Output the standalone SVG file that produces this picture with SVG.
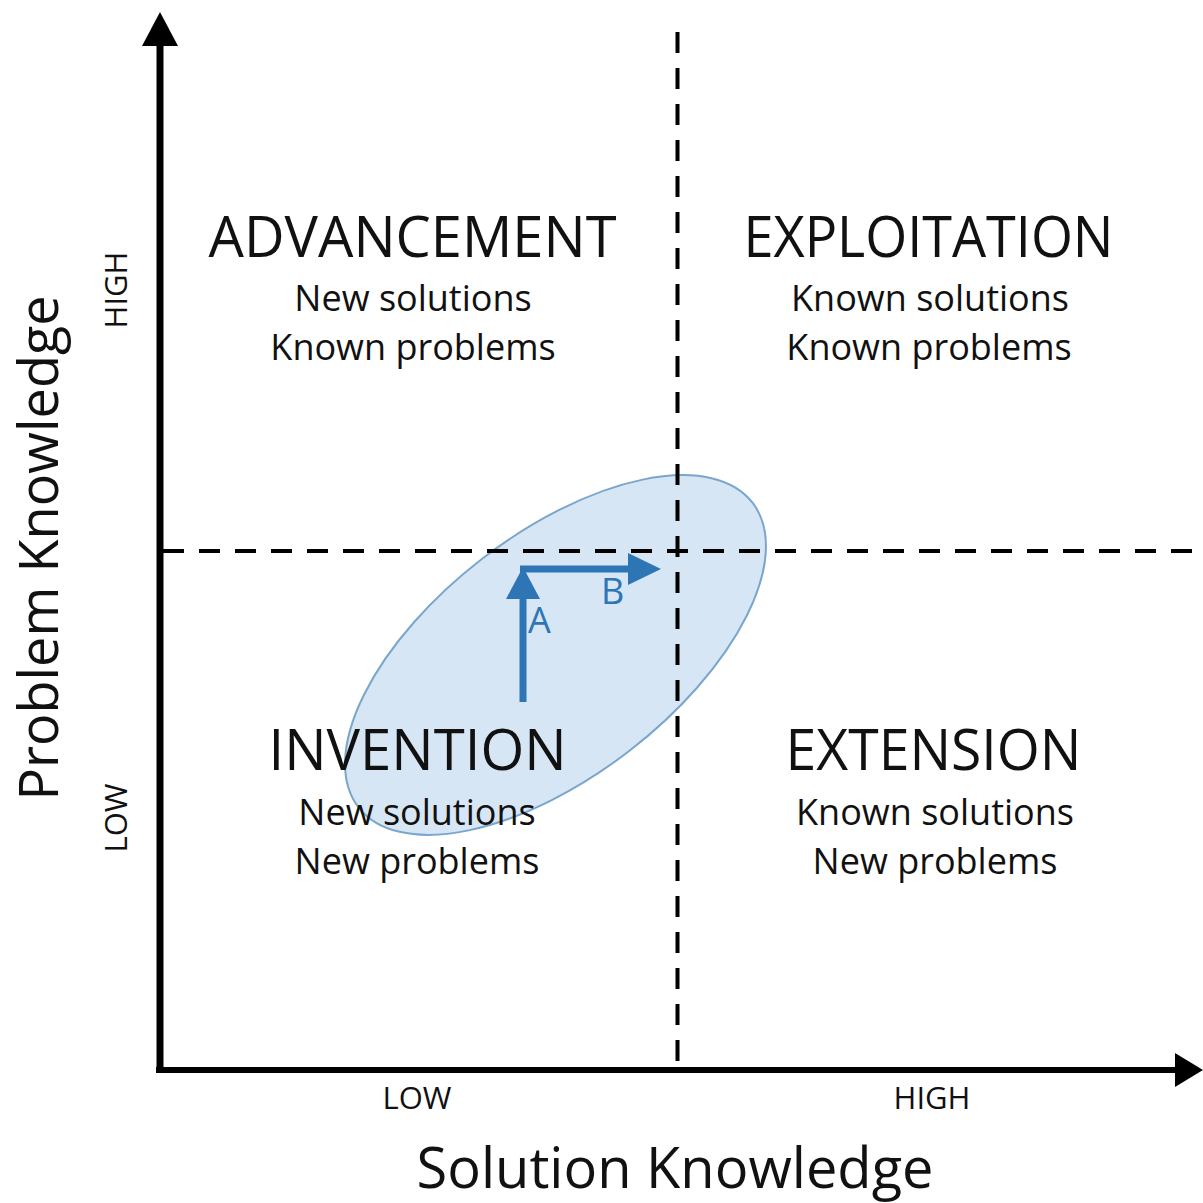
<svg xmlns="http://www.w3.org/2000/svg" width="1203" height="1203" viewBox="0 0 1203 1203">
  <style>
    .t { font-family: "Open Sans", "Noto Sans", "Liberation Sans", sans-serif; fill: #111; text-anchor: middle; }
    .title { font-size: 56px; }
    .sub { font-size: 36px; }
    .tick { font-size: 31px; }
    .axis { font-size: 56px; }
    .vaxis { font-size: 54px; }
    .dash { stroke: #000; stroke-width: 4; stroke-dasharray: 21 15; fill: none; }
    .ax { stroke: #000; stroke-width: 7; fill: none; }
    .blue { stroke: #2e75b6; stroke-width: 7; fill: none; }
    .lbl { font-family: "Open Sans", "Noto Sans", "Liberation Sans", sans-serif; fill: #2e75b6; font-size: 36px; }
  </style>
  <rect width="1203" height="1203" fill="#fff"/>

  <g id="region-ellipse">
    <ellipse cx="555.5" cy="655" rx="249" ry="121" transform="rotate(-37.7 555.5 655)" fill="#d6e6f4" stroke="#7aa6cc" stroke-width="2"/>
  </g>

  <g id="dividers">
    <line class="dash" x1="677.5" y1="32" x2="677.5" y2="1068"/>
    <line class="dash" x1="163" y1="551" x2="1195" y2="551"/>
  </g>

  <g id="connectors">
    <g id="y-axis">
      <line class="ax" x1="160" y1="40" x2="160" y2="1073"/>
      <polygon points="160,12 142,46 178,46" fill="#000"/>
    </g>
    <g id="x-axis">
      <line x1="156" y1="1070" x2="1180" y2="1070" stroke="#000" stroke-width="6"/>
      <polygon points="1203,1070 1175,1053 1175,1087" fill="#000"/>
    </g>
    <g id="arrow-A">
      <line class="blue" x1="523" y1="702" x2="523" y2="592"/>
      <polygon points="523,567 506,599 540,599" fill="#2e75b6"/>
    </g>
    <g id="arrow-B">
      <line class="blue" x1="520" y1="569" x2="632" y2="569"/>
      <polygon points="661,569 628,553 628,585" fill="#2e75b6"/>
    </g>
  </g>

  <g id="label-A"><text class="lbl" x="528" y="633">A</text></g>
  <g id="label-B"><text class="lbl" x="601" y="604">B</text></g>

  <g id="q-advancement">
    <text class="t title" x="412.5" y="257" textLength="408" lengthAdjust="spacingAndGlyphs">ADVANCEMENT</text>
    <text class="t sub" x="413" y="311">New solutions</text>
    <text class="t sub" x="413" y="360">Known problems</text>
  </g>
  <g id="q-exploitation">
    <text class="t title" x="928.5" y="257" textLength="370" lengthAdjust="spacingAndGlyphs">EXPLOITATION</text>
    <text class="t sub" x="930" y="311">Known solutions</text>
    <text class="t sub" x="929" y="360">Known problems</text>
  </g>
  <g id="q-invention">
    <text class="t title" x="417.5" y="770" textLength="298" lengthAdjust="spacingAndGlyphs">INVENTION</text>
    <text class="t sub" x="417" y="825">New solutions</text>
    <text class="t sub" x="417" y="874">New problems</text>
  </g>
  <g id="q-extension">
    <text class="t title" x="933.5" y="770" textLength="296" lengthAdjust="spacingAndGlyphs">EXTENSION</text>
    <text class="t sub" x="935" y="825">Known solutions</text>
    <text class="t sub" x="935" y="874">New problems</text>
  </g>

  <g id="x-axis-labels">
    <text class="t tick" x="417" y="1109">LOW</text>
    <text class="t tick" x="932" y="1109">HIGH</text>
    <text class="t axis" x="675" y="1188">Solution Knowledge</text>
  </g>
  <g id="y-axis-labels">
    <text class="t tick" transform="translate(127 290) rotate(-90)">HIGH</text>
    <text class="t tick" transform="translate(127 818) rotate(-90)">LOW</text>
    <text class="t vaxis" transform="translate(58 548) rotate(-90)">Problem Knowledge</text>
  </g>
</svg>
